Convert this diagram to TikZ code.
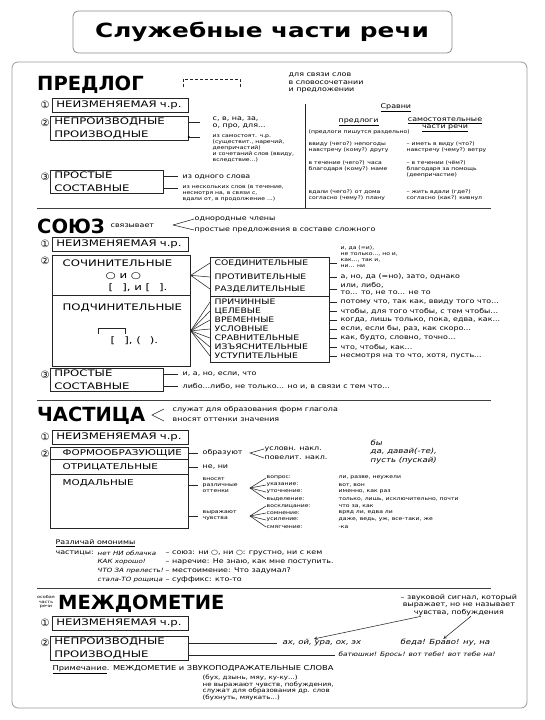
\documentclass[tikz,border=0pt]{standalone}
\usepackage{fontspec}
\setmainfont{DejaVu Sans}
\newfontfamily\ruka[FakeStretch=1.22]{DejaVu Sans}
\newfontfamily\rukab[FakeStretch=1.3]{DejaVu Sans}
\newfontfamily\titlefont[FakeStretch=1.27]{DejaVu Sans Bold}

\begin{document}
\begin{tikzpicture}[>=stealth,x=1pt,y=-1pt,
	yach/.style={draw=black!85,line width=0.7pt,anchor=north west,inner xsep=4pt,inner ysep=1.5pt,align=left,font=\rukab\fontsize{9}{13}\selectfont},
	ramka/.style={draw=black!85,line width=0.7pt,anchor=north west,inner sep=0pt},
	lab/.style={anchor=west,inner sep=0.5pt,font=\rukab\fontsize{9}{13}\selectfont},
	labc/.style={anchor=west,inner sep=0.5pt,font=\rukab\fontsize{8}{13}\selectfont},
	labm/.style={anchor=west,inner sep=0.5pt,font=\ruka\fontsize{7.6}{9}\selectfont},
	mal/.style={anchor=west,inner sep=0.5pt,align=left,font=\ruka\fontsize{6.5}{7.5}\selectfont},
	krosh/.style={anchor=west,inner sep=0.5pt,align=left,font=\ruka\fontsize{5}{6}\selectfont},
	ruch/.style={anchor=west,inner sep=0.5pt,align=left,font=\ruka\itshape\fontsize{7}{8.5}\selectfont},
	zag/.style={anchor=west,inner sep=0pt,font=\fontsize{19.5}{20}\selectfont\bfseries},
	num/.style={inner sep=0pt,font=\fontsize{10}{10}\selectfont},
	liniya/.style={draw=black!85,line width=0.55pt}]
	\useasboundingbox (0,0) rectangle (544,720);
	% заголовок и рамка
	\draw[black!45,line width=0.8pt,rounded corners=5pt] (73,11) rectangle (452,53);
	\node[font=\titlefont\fontsize{19.5}{20}\selectfont] (titul) at (262,32) {Служебные части речи};
	\draw[black!40,line width=0.8pt,rounded corners=6pt] (12,62) rectangle (527,708);
	\foreach \y in {208,400,588} \draw[black!75,line width=0.8pt] (37,\y) -- (491,\y);
	
	% ПРЕДЛОГ
	\node[zag] (predlog) at (37,85) {ПРЕДЛОГ};
	\draw[liniya,densely dashed] (183,87) -- (183,79) -- (240,79) -- (240,87);
	\node[mal] (dlya) at (288,83) {для связи слов\\в словосочетании\\и предложении};
	\node[num] (n1p) at (45,105) {①};
	\node[yach,text width=128pt,minimum height=14pt] (nizm1) at (52,98) {НЕИЗМЕНЯЕМАЯ ч.р.};
	\node[num] (n2p) at (45,123) {②};
	\node[yach,text width=130pt] (vid1) at (50,116) {НЕПРОИЗВОДНЫЕ\\ПРОИЗВОДНЫЕ};
	\coordinate (k1) at (200,122);
	\coordinate (k2) at (200,137);
	\draw[liniya] (vid1.east |- k1) -- (k1);
	\draw[liniya] (vid1.east |- k2) -- (k2);
	\fill (vid1.east |- k2) circle (1.2pt);
	\node[mal] (neproiz1) at (212,123) {с, в, на, за,\\о, про, для...};
	\node[krosh,anchor=north west] (proiz1) at (212,134) {из самостоят. ч.р.\\(существит., наречий,\\деепричастий)\\и сочетаний слов (ввиду,\\вследствие...)};
	\node[num] (n3p) at (45,177) {③};
	\node[yach,text width=105pt] (vid2) at (50,170) {ПРОСТЫЕ\\СОСТАВНЫЕ};
	\coordinate (k3) at (178,176);
	\coordinate (k4) at (178,188);
	\draw[liniya] (vid2.east |- k3) -- (k3);
	\draw[liniya] (vid2.east |- k4) -- (k4);
	\node[mal] (prost1) at (182,177) {из одного слова};
	\node[krosh,anchor=north west] (sost1) at (182,184) {из нескольких слов (в течение,\\несмотря на, в связи с,\\вдали от, в продолжение ...)};
	% сравни
	\draw[liniya] (305,104) -- (305,208);
	\node[mal] (sravni) at (380,108) {\underline{Сравни}};
	\node[mal] (predl) at (338,122) {\underline{предлоги}};
	\node[mal,align=center,anchor=north] (samost) at (445,117) {\underline{самостоятельные}\\\underline{части речи}};
	\node[krosh] (razdel) at (308,132) {(предлоги пишутся раздельно)};
	\node[krosh,anchor=north west] (l1) at (308,141) {ввиду (чего?) непогоды\\навстречу (кому?) другу};
	\node[krosh,anchor=north west] (r1) at (406,141) {– иметь в виду (что?)\\навстречу (чему?) ветру};
	\node[krosh,anchor=north west] (l2) at (308,160) {в течение (чего?) часа\\благодаря (кому?) маме};
	\node[krosh,anchor=north west] (r2) at (406,160) {– в течении (чём?)\\благодаря за помощь\\(деепричастие)};
	\node[krosh,anchor=north west] (l3) at (308,189) {вдали (чего?) от дома\\согласно (чему?) плану};
	\node[krosh,anchor=north west] (r3) at (406,189) {– жить вдали (где?)\\согласно (как?) кивнул};
	
	% СОЮЗ
	\node[zag] (soyuz) at (37,226) {СОЮЗ};
	\node[mal] (svyaz) at (110,226) {связывает};
	\coordinate (u1) at (173,225);
	\node[mal] (odnor) at (194,219) {однородные члены};
	\node[mal] (slozh) at (194,230) {простые предложения в составе сложного};
	\draw[liniya] (u1) -- (odnor.west);
	\draw[liniya] (u1) -- (slozh.west);
	\node[num] (n1s) at (45,244) {①};
	\node[yach,text width=128pt,minimum height=14pt] (nizm2) at (52,237) {НЕИЗМЕНЯЕМАЯ ч.р.};
	\node[num] (n2s) at (45,261) {②};
	\node[ramka,minimum width=138pt,minimum height=40pt] (sochin) at (52,255) {};
	\node[ramka,minimum width=138pt,minimum height=71pt] (podch) at (52,295) {};
	\node[lab] (sochtxt) at (62,263) {СОЧИНИТЕЛЬНЫЕ};
	\node[lab] (oio) at (105,276) {○ и ○};
	\node[lab] (skob1) at (108,288) {[\quad], и [\quad].};
	\node[lab] (podtxt) at (62,308) {ПОДЧИНИТЕЛЬНЫЕ};
	\draw[liniya] (98,334) -- (98,328) -- (125,328) -- (125,334);
	\node[lab] (skob2) at (110,341) {[\quad], (\quad).};
	\node[ramka,minimum width=119pt,minimum height=39pt] (sochvid) at (210,257) {};
	\node[ramka,minimum width=119pt,minimum height=66pt] (podvid) at (210,296) {};
	\node[labm] (soed) at (214,263) {СОЕДИНИТЕЛЬНЫЕ};
	\node[labm] (protiv) at (214,277) {ПРОТИВИТЕЛЬНЫЕ};
	\node[labm] (razd) at (214,289) {РАЗДЕЛИТЕЛЬНЫЕ};
	\foreach \nm in {soed,protiv,razd}{
		\draw[liniya] (sochin.east) -- (sochvid.west |- \nm);
		\coordinate (k\nm) at (337,0);
		\draw[liniya] (sochvid.east |- \nm) -- (k\nm |- \nm);
	}
	\node[krosh,anchor=north west] (tsoed) at (340,245) {и, да (=и),\\не только..., но и,\\как..., так и,\\ни... ни};
	\node[mal] (tprotiv) at (340,276) {а, но, да (=но), зато, однако};
	\node[mal] (trazd) at (340,289) {или, либо,\\то... то, не то... не то};
	\foreach \y/\nm/\t/\pr in {
		302/pri/ПРИЧИННЫЕ/{потому что, так как, ввиду того что...},
		311/cel/ЦЕЛЕВЫЕ/{чтобы, для того чтобы, с тем чтобы...},
		320/vrem/ВРЕМЕННЫЕ/{когда, лишь только, пока, едва, как...},
		329/usl/УСЛОВНЫЕ/{если, если бы, раз, как скоро...},
		338/srav/СРАВНИТЕЛЬНЫЕ/{как, будто, словно, точно...},
		347/izya/ИЗЪЯСНИТЕЛЬНЫЕ/{что, чтобы, как...},
		356/ustu/УСТУПИТЕЛЬНЫЕ/{несмотря на то что, хотя, пусть...}}{
		\node[labm] (\nm) at (214,\y) {\t};
		\draw[liniya] (podch.east) -- (podvid.west |- \nm);
		\coordinate (k\nm) at (337,\y);
		\draw[liniya] (podvid.east |- k\nm) -- (k\nm);
		\node[mal] (t\nm) at (340,\y) {\pr};
	}
	\node[num] (n3s) at (45,375) {③};
	\node[yach,text width=105pt] (vid3) at (50,368) {ПРОСТЫЕ\\СОСТАВНЫЕ};
	\coordinate (k5) at (178,374);
	\coordinate (k6) at (178,386);
	\draw[liniya] (vid3.east |- k5) -- (k5);
	\draw[liniya] (vid3.east |- k6) -- (k6);
	\node[mal] (prost2) at (182,374) {и, а, но, если, что};
	\node[mal] (sost2) at (182,386) {либо...либо, не только... но и, в связи с тем что...};
	
	% ЧАСТИЦА
	\node[zag] (chast) at (37,416) {ЧАСТИЦА};
	\coordinate (u2) at (152,415);
	\coordinate (u2a) at (164,409);
	\coordinate (u2b) at (164,421);
	\draw[liniya] (u2a) -- (u2) -- (u2b);
	\node[mal] (sluzh) at (172,410) {служат для образования форм глагола};
	\node[mal] (vnos) at (172,420) {вносят оттенки значения};
	\node[num] (n1c) at (45,437) {①};
	\node[yach,text width=128pt,minimum height=14pt] (nizm3) at (52,430) {НЕИЗМЕНЯЕМАЯ ч.р.};
	\node[num] (n2c) at (45,454) {②};
	\node[ramka,minimum width=138pt,minimum height=12pt] (forma) at (50,447) {};
	\node[ramka,minimum width=138pt,minimum height=15pt] (otric) at (50,459) {};
	\node[ramka,minimum width=138pt,minimum height=54pt] (modal) at (50,474) {};
	\node[labc] (formtxt) at (62,453) {ФОРМООБРАЗУЮЩИЕ};
	\node[labc] (otrtxt) at (62,467) {ОТРИЦАТЕЛЬНЫЕ};
	\node[labc] (modtxt) at (62,483) {МОДАЛЬНЫЕ};
	\node[mal] (obraz) at (202,453) {образуют};
	\node[mal] (neni) at (202,467) {не, ни};
	\node[krosh] (vnosyat) at (202,485) {вносят\\различные\\оттенки};
	\node[krosh] (chuvst) at (202,516) {выражают\\чувства};
	\foreach \nm in {obraz,neni,vnosyat,chuvst}{
		\coordinate (k\nm) at (198,0);
		\draw[liniya] (forma.east |- \nm) -- (k\nm |- \nm);
	}
	\coordinate (u3) at (250,453);
	\node[mal] (uslov) at (264,449) {условн. накл.};
	\node[mal] (povel) at (264,458) {повелит. накл.};
	\draw[liniya] (uslov.west) -- (u3) -- (povel.west);
	\node[ruch,anchor=north west] (by) at (370,439) {бы\\да, давай(-те),\\пусть (пускай)};
	\coordinate (u4) at (250,488);
	\foreach \y/\nm/\a/\b in {
		478/vopr/вопрос:/{ли, разве, неужели},
		485/ukaz/указание:/{вот, вон},
		492/utoch/уточнение:/{именно, как раз},
		499/vydel/выделение:/{только, лишь, исключительно, почти}}{
		\node[krosh] (\nm) at (266,\y) {\a};
		\draw[liniya] (u4) -- (\nm.west);
		\node[krosh] (z\nm) at (338,\y) {\b};
	}
	\coordinate (u5) at (250,516);
	\foreach \y/\nm/\a/\b in {
		506/vosk/восклицание:/{что за, как},
		513/somn/сомнение:/{вряд ли, едва ли},
		520/usil/усиление:/{даже, ведь, уж, все-таки, же},
		527/smyag/смягчение:/{-ка}}{
		\node[krosh] (\nm) at (266,\y) {\a};
		\draw[liniya] (u5) -- (\nm.west);
		\node[krosh] (z\nm) at (338,\y) {\b};
	}
	\node[mal] (razl) at (55,543) {\underline{Различай омонимы}};
	\node[mal] (chst) at (55,553) {частицы:};
	\foreach \y/\nm/\a/\b in {
		553/om1/{нет НИ облачка}/{– союз: ни ○, ни ○: грустно, ни с кем},
		562/om2/{КАК хорошо!}/{– наречие: Не знаю, как мне поступить.},
		571/om3/{ЧТО ЗА прелесть!}/{– местоимение: Что задумал?},
		580/om4/{стала-ТО рощица}/{– суффикс: кто-то}}{
		\node[mal,font=\ruka\itshape\fontsize{5.8}{7}\selectfont] (\nm) at (97,\y) {\a};
		\node[mal] (z\nm) at (165,\y) {\b};
	}
	
	% МЕЖДОМЕТИЕ
	\node[krosh,anchor=center,align=center,font=\ruka\fontsize{4}{4.6}\selectfont] (osob) at (46,602) {особая\\часть\\речи};
	\node[zag] (mezhd) at (58,604) {МЕЖДОМЕТИЕ};
	\node[mal,align=center] (sign) at (400,605) {– звуковой сигнал, который\\выражает, но не называет\\чувства, побуждения};
	\node[num] (n1m) at (45,623) {①};
	\node[yach,text width=128pt,minimum height=14pt] (nizm4) at (52,616) {НЕИЗМЕНЯЕМАЯ ч.р.};
	\node[num] (n2m) at (45,643) {②};
	\node[yach,text width=130pt] (vid4) at (50,636) {НЕПРОИЗВОДНЫЕ\\ПРОИЗВОДНЫЕ};
	\coordinate (k7) at (277,643);
	\coordinate (k8) at (335,655);
	\draw[liniya] (vid4.east |- k7) -- (k7);
	\draw[liniya] (vid4.east |- k8) -- (k8);
	\node[ruch] (nepr4) at (282,643) {ах, ой, ура, ох, эх};
	\node[ruch] (beda) at (400,643) {беда! Браво! ну, на};
	\node[ruch,font=\ruka\itshape\fontsize{6}{7}\selectfont] (proiz4) at (338,655) {батюшки! Брось! вот тебе! вот тебе на!};
	\draw[liniya,->] ([xshift=-38pt]sign.south) -- ([xshift=-8pt]nepr4.north);
	\draw[liniya,->] ([xshift=12pt]sign.south) -- ([xshift=-2pt]beda.north);
	\node[mal,font=\ruka\fontsize{6.8}{8}\selectfont] (prim) at (52,670) {\underline{Примечание}. МЕЖДОМЕТИЕ и ЗВУКОПОДРАЖАТЕЛЬНЫЕ СЛОВА};
	\node[krosh,anchor=north west,font=\ruka\fontsize{5.8}{6.8}\selectfont] (prim2) at (202,674) {(бух, дзынь, мяу, ку-ку...)\\не выражают чувств, побуждения,\\служат для образования др. слов\\(бухнуть, мяукать...)};
\end{tikzpicture}
\end{document}
